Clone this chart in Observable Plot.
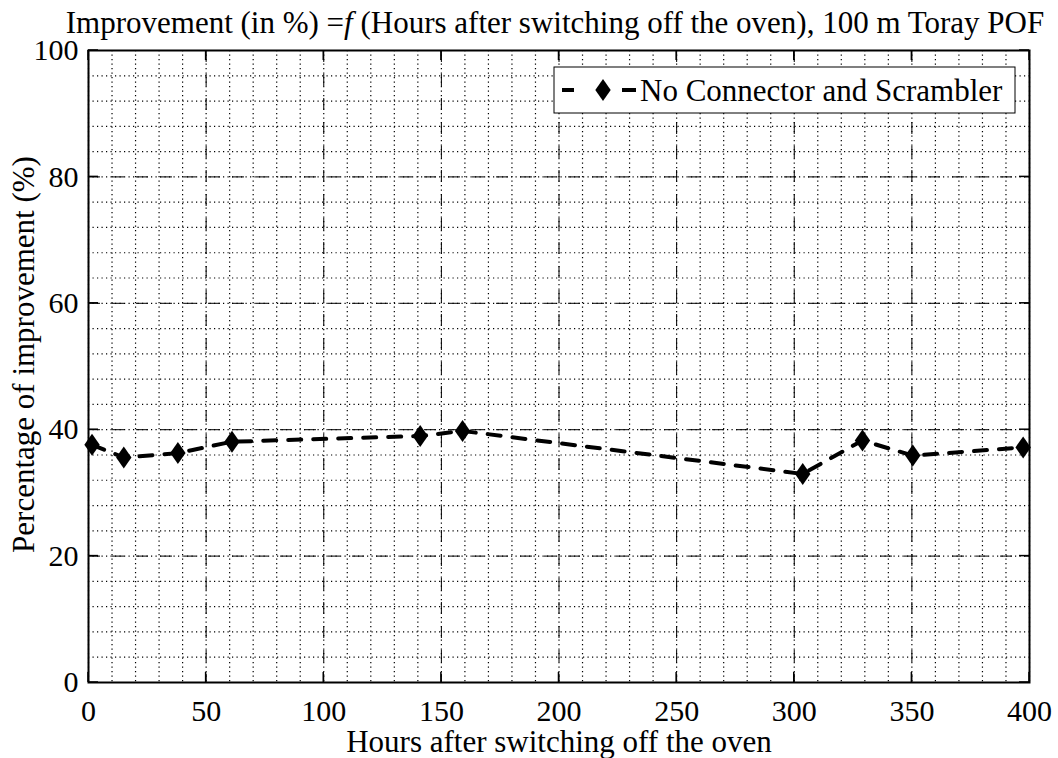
<!DOCTYPE html>
<html><head><meta charset="utf-8">
<script src="https://cdn.jsdelivr.net/npm/d3@7"></script>
<script src="https://cdn.jsdelivr.net/npm/@observablehq/plot@0.6"></script>
<style>body{margin:0;background:#fff} svg{display:block}</style>
</head><body><div id="chart"></div>
<script>
// ---- data ----
const hours = [1.5, 15, 38, 61, 141, 159, 303.6, 329, 350.4, 397.3];
const improvement = [37.6, 35.6, 36.3, 38.1, 39.0, 39.8, 33.0, 38.3, 35.9, 37.2];
const seriesName = "No Connector and Scrambler";
const xMajorTicks = [0, 50, 100, 150, 200, 250, 300, 350, 400];
const yMajorTicks = [0, 20, 40, 60, 80, 100];
const xMinorTicks = d3.range(0, 401, 10);
const yMinorTicks = d3.range(0, 101, 4);
const titleParts = ["Improvement (in %) =", "f", " (Hours after switching off the oven), 100 m Toray POF"];
const xLabel = "Hours after switching off the oven";
const yLabel = "Percentage of improvement (%)";

const rows = hours.map((h, i) => ({h, v: improvement[i]}));

const tallDiamond = {
  draw(ctx, size) {
    const r = Math.sqrt(size / Math.PI);
    const w = r * 0.7;
    ctx.moveTo(0, -r); ctx.lineTo(w, 0); ctx.lineTo(0, r); ctx.lineTo(-w, 0); ctx.closePath();
  }
};

const FONT = "'Liberation Serif', 'Times New Roman', serif";
const FS = 31;   // title, labels, legend
const FT = 30;   // tick labels

const chart = Plot.plot({
  width: 1058, height: 758,
  marginLeft: 88, marginRight: 29, marginTop: 50, marginBottom: 76,
  x: {domain: [0, 400]},
  y: {domain: [0, 100]},
  style: {fontFamily: FONT, fontSize: FS + "px", background: "#fff", color: "#000"},
  marks: [
    Plot.ruleX(xMinorTicks, {stroke: "#000", strokeWidth: 1.2, strokeDasharray: "1.2,3.3"}),
    Plot.ruleY(yMinorTicks, {stroke: "#000", strokeWidth: 1.2, strokeDasharray: "1.2,3.3"}),
    Plot.ruleX(xMajorTicks, {stroke: "#000", strokeWidth: 1, strokeDasharray: "12,12"}),
    Plot.ruleY(yMajorTicks, {stroke: "#000", strokeWidth: 1, strokeDasharray: "12,12"}),
    Plot.axisX(xMajorTicks, {anchor: "bottom", tickSize: 0, tickPadding: 17, label: null, fontSize: FT}),
    Plot.axisY(yMajorTicks, {anchor: "left", tickSize: 0, tickPadding: 10, label: null, fontSize: FT}),
    Plot.text([xLabel], {frameAnchor: "bottom", dy: 69, fontSize: FS, text: d => d}),
    Plot.text([yLabel], {frameAnchor: "left", dx: -64, dy: -12, rotate: -90, textAnchor: "middle", fontSize: FS, text: d => d}),
    Plot.line(rows, {x: "h", y: "v", stroke: "#000", strokeWidth: 4, strokeDasharray: "13,12"}),
    Plot.dot(rows, {x: "h", y: "v", symbol: tallDiamond, r: 11, fill: "#000", stroke: null}),
    Plot.frame({stroke: "#000", strokeWidth: 2})
  ]
});

const svg = d3.select(chart);
// inward ticks on all four sides
const sx = chart.scale("x"), sy = chart.scale("y");
const tickG = svg.append("g").attr("stroke", "#000").attr("stroke-width", 1.5);
const yTop = sy.apply(100), yBottom = sy.apply(0), xLeft = sx.apply(0), xRight = sx.apply(400);
xMajorTicks.forEach(t => {
  const x = sx.apply(t);
  tickG.append("line").attr("x1", x).attr("x2", x).attr("y1", yBottom).attr("y2", yBottom - 10);
  tickG.append("line").attr("x1", x).attr("x2", x).attr("y1", yTop).attr("y2", yTop + 10);
});
yMajorTicks.forEach(t => {
  const y = sy.apply(t);
  tickG.append("line").attr("y1", y).attr("y2", y).attr("x1", xLeft).attr("x2", xLeft + 10);
  tickG.append("line").attr("y1", y).attr("y2", y).attr("x1", xRight).attr("x2", xRight - 10);
});

// title
const title = svg.append("text")
  .attr("x", 555).attr("y", 33)
  .attr("text-anchor", "middle")
  .attr("font-family", FONT).attr("font-size", FS).attr("fill", "#000");
title.append("tspan").text(titleParts[0]);
title.append("tspan").attr("font-style", "italic").text(titleParts[1]);
title.append("tspan").text(titleParts[2]);

// legend
const lg = svg.append("g");
lg.append("rect").attr("x", 554).attr("y", 67).attr("width", 461).attr("height", 46)
  .attr("fill", "#fff").attr("stroke", "#000").attr("stroke-width", 1);
lg.append("line").attr("x1", 562).attr("x2", 574).attr("y1", 90).attr("y2", 90).attr("stroke", "#000").attr("stroke-width", 4);
lg.append("line").attr("x1", 622).attr("x2", 636).attr("y1", 90).attr("y2", 90).attr("stroke", "#000").attr("stroke-width", 4);
lg.append("path").attr("transform", "translate(603,90)")
  .attr("d", d3.symbol(tallDiamond, Math.PI * 11 * 11)()).attr("fill", "#000");
lg.append("text").attr("x", 640).attr("y", 101).attr("text-anchor", "start")
  .attr("font-family", FONT).attr("font-size", FS)
  .attr("fill", "#000").text(seriesName);

document.getElementById("chart").append(chart);
</script>
</body></html>
